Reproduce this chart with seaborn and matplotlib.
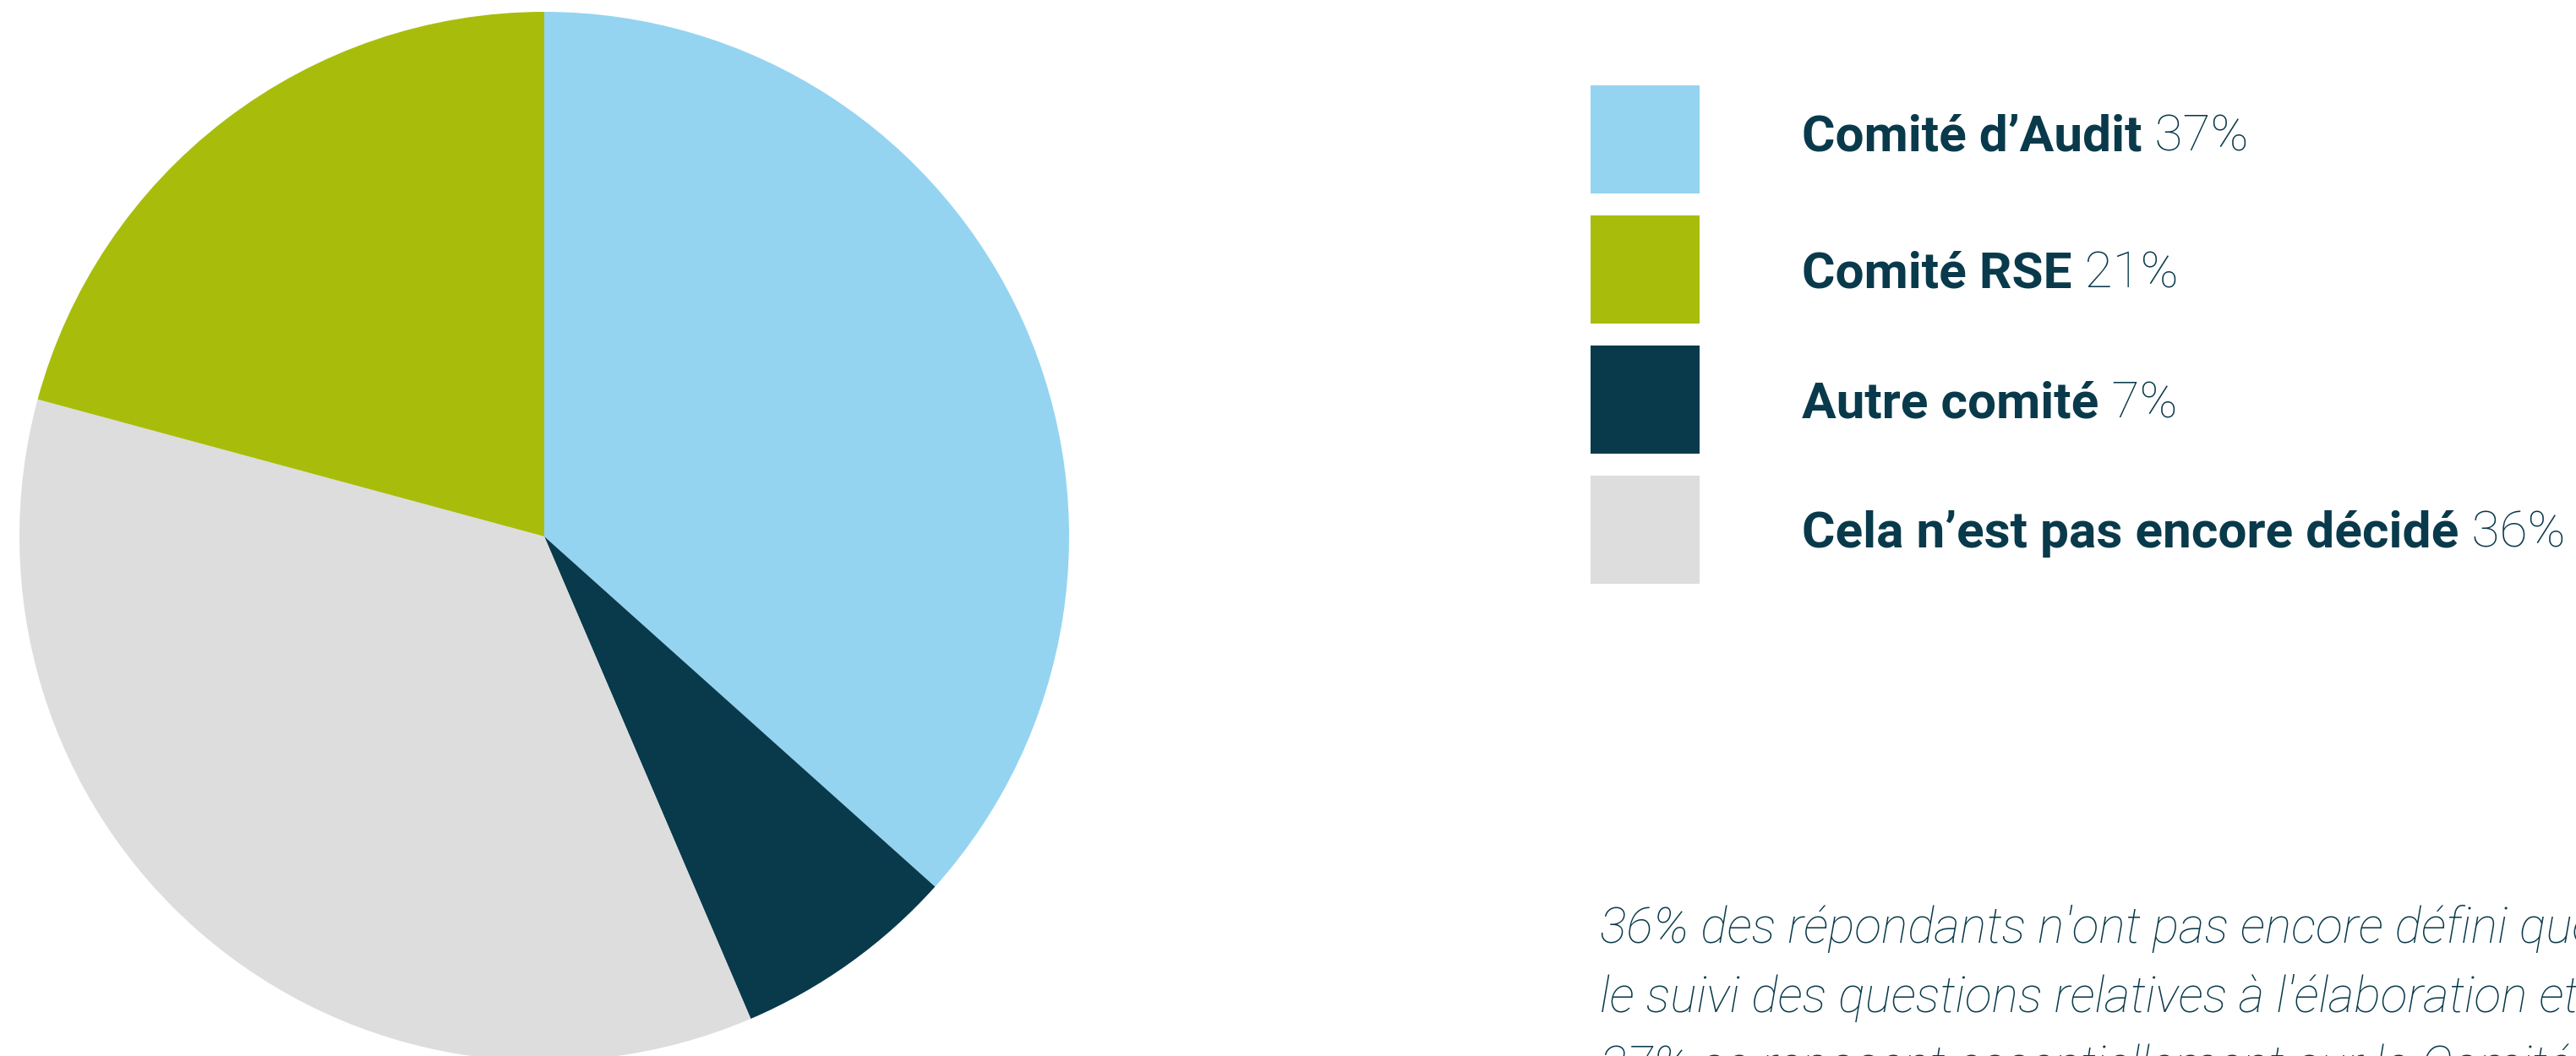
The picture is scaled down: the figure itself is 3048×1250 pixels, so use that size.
import seaborn as sns
import matplotlib.pyplot as plt
import pandas as pd

# data
labels = ["Comité d’Audit", "Autre comité", "Cela n’est pas encore décidé", "Comité RSE"]
values = [37, 7, 36, 21]
colors = ["#94D4F1", "#083A4C", "#DDDDDD", "#A8BD0B"]

legend_labels = ["Comité d’Audit", "Comité RSE", "Autre comité", "Cela n’est pas encore décidé"]
legend_pcts = ["37%", "21%", "7%", "36%"]
legend_colors = ["#94D4F1", "#A8BD0B", "#083A4C", "#DDDDDD"]

note_lines = [
    "36% des répondants n'ont pas encore défini quel comité assurera",
    "le suivi des questions relatives à l'élaboration et à la publication",
    "37% se reposent essentiellement sur le Comité d'Audit.",
]

text_color = "#093A4B"

sns.set_theme(style="white")
plt.rcParams['font.family'] = ['Roboto', 'DejaVu Sans']

W, H = 3048, 1250
fig = plt.figure(figsize=(W / 100, H / 100), dpi=100)
fig.patch.set_facecolor("white")

# pie
cx, cy, r = 644, 635, 621
ax = fig.add_axes([(cx - r) / W, (H - cy - r) / H, 2 * r / W, 2 * r / H])
ax.pie(values, colors=colors, startangle=90, counterclock=False,
       wedgeprops=dict(linewidth=0))
ax.set_xlim(-1, 1)
ax.set_ylim(-1, 1)
ax.set_aspect("equal")
ax.axis("off")

# legend
leg_df = pd.DataFrame({"row": range(len(legend_labels)), "x": 0, "label": legend_labels})
lx0, ltop, lbot = 1882, 88, 704
axl = fig.add_axes([lx0 / W, (H - lbot) / H, (W - lx0) / W, (lbot - ltop) / H])
sns.scatterplot(data=leg_df, x="x", y="row", hue="label", palette=legend_colors,
                marker="s", s=8600, linewidth=0, legend=False, ax=axl)
axl.set_xlim(-64.5, W - lx0 - 64.5)
axl.set_ylim(3.5, -0.5)
axl.axis("off")

nudge = [0.09, 0.14, 0.14, 0.135]
for i, (lab, pct) in enumerate(zip(legend_labels, legend_pcts)):
    t = axl.text(186, i + nudge[i], lab, fontsize=43.5, fontweight="bold",
                 color=text_color, va="baseline", ha="left")
    axl.annotate(" " + pct, xy=(1, 0), xycoords=t, va="bottom", ha="left",
                 fontsize=43.5, fontweight="light", color=text_color)

# note
for i, line in enumerate(note_lines):
    fig.text(1893 / W, 1 - (1116 + 82 * i) / H, line, fontsize=42.5,
             fontstyle="italic", fontweight="light", color=text_color,
             va="baseline", ha="left")

fig.savefig("out.png", dpi=100, facecolor="white")
